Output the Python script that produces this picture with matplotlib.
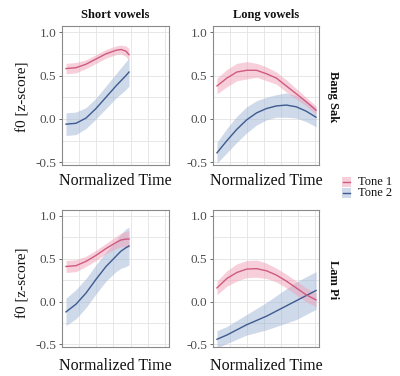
import matplotlib
matplotlib.use("Agg")
import matplotlib.pyplot as plt
from matplotlib.patches import Rectangle
from matplotlib.lines import Line2D

# ---------------- data ----------------
x_short = [0, 0.1, 0.2, 0.3, 0.4, 0.5, 0.55, 0.6, 0.63]
x_long = [0, 0.1, 0.2, 0.3, 0.4, 0.5, 0.6, 0.7, 0.8, 0.9, 1.0]

bs_short_t1 = [0.58, 0.59, 0.63, 0.69, 0.75, 0.79, 0.80, 0.78, 0.74]
bs_short_t1_ci = [0.06, 0.06, 0.05, 0.05, 0.05, 0.05, 0.05, 0.06, 0.07]
bs_short_t2 = [-0.06, -0.05, 0.01, 0.12, 0.25, 0.38, 0.44, 0.50, 0.54]
bs_short_t2_ci = [0.13, 0.13, 0.12, 0.12, 0.13, 0.14, 0.15, 0.16, 0.16]

bs_long_t1 = [0.38, 0.47, 0.54, 0.56, 0.56, 0.52, 0.47, 0.38, 0.29, 0.20, 0.10]
bs_long_t1_ci = [0.09, 0.10, 0.10, 0.10, 0.08, 0.08, 0.07, 0.07, 0.06, 0.05, 0.05]
bs_long_t2 = [-0.39, -0.25, -0.12, -0.01, 0.07, 0.12, 0.15, 0.16, 0.14, 0.09, 0.02]
bs_long_t2_ci = [0.12, 0.14, 0.15, 0.15, 0.14, 0.13, 0.13, 0.14, 0.13, 0.12, 0.11]

lp_short_t1 = [0.41, 0.42, 0.47, 0.54, 0.62, 0.69, 0.72, 0.73, 0.73]
lp_short_t1_ci = [0.07, 0.07, 0.06, 0.06, 0.06, 0.07, 0.08, 0.09, 0.10]
lp_short_t2 = [-0.12, -0.03, 0.10, 0.26, 0.41, 0.53, 0.59, 0.63, 0.65]
lp_short_t2_ci = [0.16, 0.17, 0.17, 0.17, 0.17, 0.18, 0.20, 0.22, 0.22]

lp_long_t1 = [0.16, 0.27, 0.34, 0.38, 0.385, 0.36, 0.31, 0.24, 0.16, 0.08, 0.02]
lp_long_t1_ci = [0.08, 0.09, 0.10, 0.10, 0.10, 0.09, 0.08, 0.08, 0.08, 0.08, 0.08]
lp_long_t2 = [-0.44, -0.39, -0.33, -0.27, -0.22, -0.17, -0.11, -0.05, 0.01, 0.07, 0.13]
lp_long_t2_ci = [0.10, 0.10, 0.11, 0.12, 0.14, 0.16, 0.18, 0.20, 0.22, 0.22, 0.22]

col_titles = ["Short vowels", "Long vowels"]
row_titles = ["Bang Sak", "Lam Pi"]
tone_labels = ["Tone 1", "Tone 2"]
y_ticks = [-0.5, 0.0, 0.5, 1.0]
y_ticklabels = ["-0.5", "0.0", "0.5", "1.0"]

# ---------------- style ----------------
plt.rcParams['font.family'] = ['Liberation Serif', 'DejaVu Serif']
line_cols = ['#cf5a80', '#3d5b8f']
fill_cols = ['#f0a0b8', '#9fb4d6']
W, H = 400, 376
fig = plt.figure(figsize=(W / 100, H / 100), dpi=100)

def frac(x0, y0, x1, y1):
    return [x0 / W, 1 - y1 / H, (x1 - x0) / W, (y1 - y0) / H]

positions = [
    [frac(62, 26, 169, 165), frac(213, 26, 319, 165)],
    [frac(62, 210, 169, 347), frac(213, 210, 319, 347)],
]
panels = [
    [(x_short, bs_short_t1, bs_short_t1_ci, bs_short_t2, bs_short_t2_ci),
     (x_long, bs_long_t1, bs_long_t1_ci, bs_long_t2, bs_long_t2_ci)],
    [(x_short, lp_short_t1, lp_short_t1_ci, lp_short_t2, lp_short_t2_ci),
     (x_long, lp_long_t1, lp_long_t1_ci, lp_long_t2, lp_long_t2_ci)],
]
grid_x = [0.13, 0.30, 0.47, 0.65, 0.82, 0.99]
grid_y = [-0.5, -0.25, 0.0, 0.25, 0.5, 0.75, 1.0]

for r in range(2):
    for c in range(2):
        ax = fig.add_axes(positions[r][c])
        xs, m1, e1, m2, e2 = panels[r][c]
        for m, e, k in ((m2, e2, 1), (m1, e1, 0)):
            lo = [a - b for a, b in zip(m, e)]
            hi = [a + b for a, b in zip(m, e)]
            ax.fill_between(xs, lo, hi, color=fill_cols[k], alpha=0.5, lw=0, zorder=2)
            ax.plot(xs, m, color=line_cols[k], lw=1.0, zorder=3)
        ax.set_xlim(-0.04, 1.03)
        ax.set_ylim(-0.53, 1.07)
        for gx in grid_x:
            ax.axvline(gx, color='#e3e3e3', lw=0.6, zorder=0)
        for gy in grid_y:
            ax.axhline(gy, color='#e3e3e3', lw=0.6, zorder=0)
        ax.set_xticks([])
        ax.set_yticks(y_ticks)
        ax.set_yticklabels(y_ticklabels)
        ax.tick_params(axis='y', length=2.5, width=0.6, color='#555555',
                       labelcolor='#4d4d4d', labelsize=9.5, pad=1.5)
        for s in ax.spines.values():
            s.set_color('#8a8a8a')
            s.set_linewidth(0.8)
        # axis labels
        cx = (positions[r][c][0] + positions[r][c][2] / 2) * W
        ybot = [181, 366][r]
        fig.text(cx / W, 1 - ybot / H, "Normalized Time", ha='center', va='center',
                 fontsize=11.5, color='#111111')
        if c == 0:
            yc = [97, 283][r]
            fig.text(23 / W, 1 - yc / H, "f0 [z-score]", ha='center', va='center',
                     rotation=90, fontsize=11, color='#111111')
        if r == 0:
            fig.text(cx / W, 1 - 15 / H, col_titles[c], ha='center', va='center',
                     fontsize=9, color='#111111', fontweight='semibold')
        if c == 1:
            yc = [97, 280][r]
            fig.text(333 / W, 1 - yc / H, row_titles[r], ha='center', va='center',
                     rotation=-90, fontsize=9, color='#111111', fontweight='semibold')

# legend
for k, yl in enumerate([182, 193]):
    fig.patches.append(Rectangle(((346 - 4) / W, 1 - (yl + 5) / H), 9 / W, 10 / H,
                                 transform=fig.transFigure, color=fill_cols[k],
                                 alpha=0.5, lw=0))
    fig.lines.append(Line2D([(346 - 3) / W, (346 + 4) / W], [1 - yl / H, 1 - yl / H],
                            transform=fig.transFigure, color=line_cols[k], lw=1.0))
    fig.text(358 / W, 1 - yl / H, tone_labels[k], ha='left', va='center',
             fontsize=9, color='#111111')

fig.savefig("out.png", dpi=100)
